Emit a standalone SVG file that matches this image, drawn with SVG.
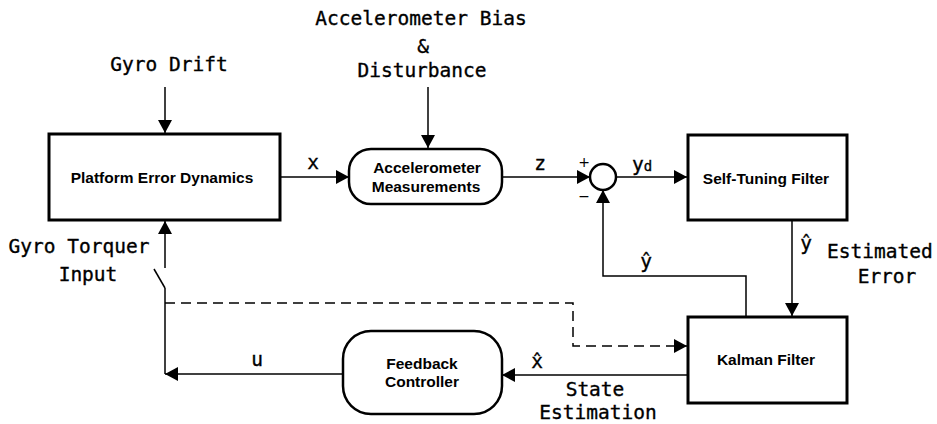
<svg xmlns="http://www.w3.org/2000/svg" width="937" height="424" viewBox="0 0 937 424">
  <style>
    .box { fill: #fff; stroke: #000; stroke-width: 3; }
    .rbox { fill: #fff; stroke: #000; stroke-width: 2.5; }
    .wire { fill: none; stroke: #000; stroke-width: 1.5; }
    .dash { fill: none; stroke: #000; stroke-width: 1.5; stroke-dasharray: 10 6; }
    .lbl { font-family: "DejaVu Sans Mono", "Liberation Mono", monospace; font-size: 19.5px; fill: #000; stroke: #000; stroke-width: 0.35; }
    .blk { font-family: "Liberation Sans", Arial, sans-serif; font-weight: bold; font-size: 15.5px; fill: #000; text-anchor: middle; }
    .mid { text-anchor: middle; }
    .sm { font-family: "DejaVu Sans", "Liberation Sans", sans-serif; font-size: 14px; fill: #000; }
  </style>
  <defs>
    <marker id="arr" viewBox="0 0 13 14" refX="13" refY="7" markerWidth="13" markerHeight="14" markerUnits="userSpaceOnUse" orient="auto">
      <path d="M0,0 L13,7 L0,14 z" fill="#000"/>
    </marker>
  </defs>

  <!-- external inputs -->
  <g id="input-gyro-drift">
    <text class="lbl mid" x="169" y="71">Gyro Drift</text>
  </g>
  <g id="input-accel-bias">
    <text class="lbl mid" x="421" y="25">Accelerometer Bias</text>
    <text class="lbl mid" x="423" y="53">&amp;</text>
    <text class="lbl mid" x="422" y="77">Disturbance</text>
  </g>
  <g id="input-torquer">
    <text class="lbl mid" x="79" y="253">Gyro Torquer</text>
    <text class="lbl mid" x="88" y="281">Input</text>
  </g>

  <!-- blocks -->
  <g id="platform">
    <rect class="box" x="49" y="134" width="231" height="86"/>
    <text class="blk" x="162" y="183">Platform Error Dynamics</text>
  </g>
  <g id="accelerometer">
    <rect class="rbox" x="349" y="149" width="153" height="55" rx="22" ry="22"/>
    <text class="blk" x="427" y="173">Accelerometer</text>
    <text class="blk" x="426" y="192">Measurements</text>
  </g>
  <g id="junction">
    <circle class="rbox" cx="603" cy="177" r="13"/>
    <text class="sm mid" x="584" y="167">+</text>
    <text class="sm mid" x="584" y="201">−</text>
  </g>
  <g id="self-tuning">
    <rect class="box" x="688" y="135" width="159" height="85"/>
    <text class="blk" x="766" y="184">Self-Tuning Filter</text>
  </g>
  <g id="kalman">
    <rect class="box" x="688" y="317" width="159" height="86"/>
    <text class="blk" x="766" y="365">Kalman Filter</text>
  </g>
  <g id="feedback">
    <rect class="rbox" x="343" y="331" width="159" height="83" rx="28" ry="28"/>
    <text class="blk" x="422" y="369">Feedback</text>
    <text class="blk" x="422" y="387">Controller</text>
  </g>

  <!-- connectors -->
  <g id="connectors">
    <line class="wire" x1="165" y1="87" x2="165" y2="133" marker-end="url(#arr)"/>
    <line class="wire" x1="428" y1="87" x2="428" y2="148" marker-end="url(#arr)"/>
    <line class="wire" x1="280" y1="177" x2="349" y2="177" marker-end="url(#arr)"/>
    <line class="wire" x1="502" y1="177" x2="590" y2="177" marker-end="url(#arr)"/>
    <line class="wire" x1="616" y1="177" x2="687" y2="177" marker-end="url(#arr)"/>
    <path class="wire" d="M746,317 V276 H603 V190" marker-end="url(#arr)"/>
    <line class="wire" x1="792" y1="220" x2="792" y2="316" marker-end="url(#arr)"/>
    <line class="wire" x1="688" y1="375" x2="502" y2="375" marker-end="url(#arr)"/>
    <line class="wire" x1="343" y1="374" x2="165" y2="374" marker-end="url(#arr)"/>
    <line class="wire" x1="165" y1="374" x2="165" y2="288"/>
    <line class="wire" x1="154" y1="269" x2="165" y2="288"/>
    <line class="wire" x1="165" y1="268" x2="165" y2="221" marker-end="url(#arr)"/>
    <path class="dash" d="M165,303 H573 V346 H687" marker-end="url(#arr)"/>

    <!-- signal labels -->
    <text class="lbl mid" x="313" y="169">x</text>
    <text class="lbl mid" x="540" y="170">z</text>
    <text class="lbl" x="632" y="171">y<tspan font-size="14">d</tspan></text>
    <text class="lbl mid" x="646" y="268">ŷ</text>
    <text class="lbl mid" x="806" y="250" font-size="17">ŷ</text>
    <text class="lbl" x="827" y="258">Estimated</text>
    <text class="lbl mid" x="887" y="283">Error</text>
    <text class="lbl mid" x="537" y="368">x̂</text>
    <text class="lbl mid" x="595" y="396">State</text>
    <text class="lbl mid" x="598" y="419">Estimation</text>
    <text class="lbl mid" x="257" y="366">u</text>
  </g>
</svg>
